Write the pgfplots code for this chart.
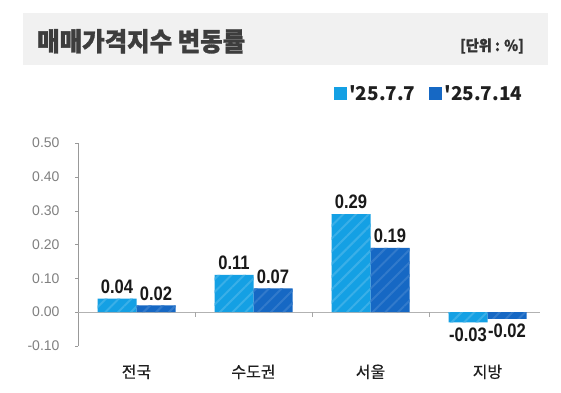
\documentclass[border=0pt]{standalone}
\usepackage{fontspec}
\setmainfont{Liberation Sans}
\newfontfamily\krfont{Noto Sans CJK KR}[FakeBold=0.4]
\newfontfamily\krlegend{Noto Sans CJK KR}
\newfontfamily\krtitle{Noto Sans CJK KR}[FakeStretch=0.94, FakeBold=1.2]
\newfontfamily\numfont{Liberation Sans}[FakeStretch=0.85]
\usepackage{pgfplots}
\pgfplotsset{compat=1.18}
\usetikzlibrary{patterns.meta}
\definecolor{cLight}{RGB}{20,160,228}
\definecolor{cDark}{RGB}{22,104,196}
\definecolor{band}{RGB}{241,241,241}
\definecolor{tickgray}{RGB}{128,128,128}
\begin{document}
\begin{tikzpicture}[x=1pt,y=1pt]
\useasboundingbox (0,0) rectangle (561,392);
\fill[white] (0,0) rectangle (561,392);
\fill[band] (23,327) rectangle (548,379);
\node[anchor=base west, inner sep=0, text=black!76] at (37,341) {\krtitle\bfseries\fontsize{26}{29}\selectfont 매매가격지수 변동률};
\node[anchor=base east, inner sep=0, text=black!80] at (524,341) {\krtitle\bfseries\fontsize{15}{17}\selectfont [단위 : \%]};
\begin{axis}[
  at={(78pt,46pt)}, anchor=south west,
  scale only axis, width=468pt, height=203pt,
  xmin=-0.5, xmax=3.5, ymin=-0.1, ymax=0.5,
  ybar, bar width=39pt,
  axis lines*=left,
  x axis line style={draw=none},
  y axis line style={draw=black!40},
  ytick={-0.1,0,0.1,0.2,0.3,0.4,0.5},
  xtick={0,1,2,3},
  xticklabels={전국,수도권,서울,지방},
  x tick style={draw=none},
  y tick style={draw=black!40},
  tick align=outside,
  major tick length=3pt,
  /pgf/number format/assume math mode=true,
  yticklabel style={font=\fontsize{14}{16}\selectfont, text=tickgray, xshift=-12pt,
     /pgf/number format/fixed, /pgf/number format/fixed zerofill, /pgf/number format/precision=2},
  xticklabel style={font=\krfont\fontsize{16}{18}\selectfont, text=black!88, yshift=-12pt},
  clip=false,
  legend columns=2,
  legend style={draw=none, fill=none, at={(0.547,1.244)}, anchor=west,
    font=\krlegend\bfseries\fontsize{19}{21}\selectfont, text=black!88,
    inner xsep=0pt, inner ysep=0pt,
    /tikz/every even column/.append style={column sep=12pt}},
  legend image code/.code={\fill[#1] (0pt,-6.5pt) rectangle (13pt,6.5pt);},
  nodes near coords,
  nodes near coords style={font=\numfont\bfseries\fontsize{19.5}{21}\selectfont, text=black!90,
     /pgf/number format/fixed, /pgf/number format/fixed zerofill, /pgf/number format/precision=2,
     inner sep=5pt},
]
\addlegendimage{fill=cLight, draw=none}
\addlegendentry{'25.7.7}
\addlegendimage{fill=cDark, draw=none}
\addlegendentry{'25.7.14}
\draw[black!30] (axis cs:-0.5,0) -- (axis cs:3.45,0);
\draw[black!35] (axis cs:0.5,0) -- ([yshift=-5pt]axis cs:0.5,0);
\draw[black!35] (axis cs:1.5,0) -- ([yshift=-5pt]axis cs:1.5,0);
\draw[black!35] (axis cs:2.5,0) -- ([yshift=-5pt]axis cs:2.5,0);
\addplot[forget plot, bar shift=-19.5pt, fill=cLight, draw=none,
  postaction={pattern={Lines[angle=45,distance=9pt,line width=2pt]}, pattern color=cLight!84!white}]
  coordinates {(0,0.04) (1,0.11) (2,0.29) (3,-0.03)};
\addplot[forget plot, bar shift=19.5pt, fill=cDark, draw=none,
  postaction={pattern={Lines[angle=45,distance=9pt,line width=2pt]}, pattern color=cDark!88!white}]
  coordinates {(0,0.02) (1,0.07) (2,0.19) (3,-0.02)};
\end{axis}
\end{tikzpicture}
\end{document}
